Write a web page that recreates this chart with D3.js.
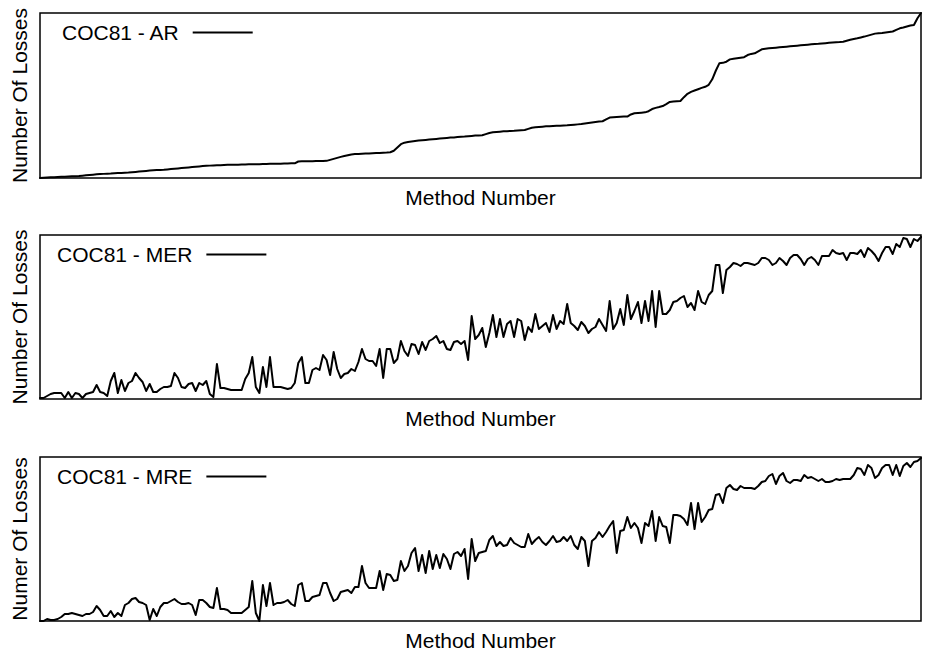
<!DOCTYPE html>
<html><head><meta charset="utf-8">
<script src="https://cdn.jsdelivr.net/npm/d3@7"></script>
<style>body{margin:0;background:#fff} text{font-family:"Liberation Sans",Arial,Helvetica,sans-serif;fill:#000}</style>
</head><body><svg id="c" width="927" height="656"></svg>
<script>
// Number of losses per method, method number = index + 1
const arLosses = [
0,0.2,0.3,0.4,0.5,0.6,0.7,0.8,0.9,1.0,
1.1,1.2,1.4,1.6,1.8,2.0,2.2,2.4,2.5,2.6,
2.7,2.9,3.0,3.1,3.2,3.3,3.5,3.7,3.9,4.1,
4.3,4.5,4.7,4.8,4.9,5.0,5.2,5.4,5.6,5.8,
6.0,6.2,6.4,6.6,6.8,7.0,7.2,7.4,7.5,7.6,
7.7,7.8,7.9,8.0,8.0,8.1,8.1,8.2,8.2,8.3,
8.3,8.4,8.4,8.5,8.5,8.6,8.6,8.7,8.7,8.8,
8.8,8.9,8.9,10.0,10.1,10.1,10.2,10.2,10.3,10.3,
10.3,10.4,11.0,11.6,12.2,12.8,13.3,13.8,14.3,14.5,
14.6,14.7,14.8,14.9,15.0,15.1,15.2,15.3,15.4,15.6,
16.5,18.5,20.5,21.4,21.8,22.1,22.4,22.7,22.9,23.1,
23.3,23.5,23.7,23.9,24.1,24.3,24.5,24.6,24.8,25.0,
25.1,25.3,25.5,25.7,25.8,25.9,26.6,27.3,27.7,27.9,
28.1,28.3,28.4,28.5,28.6,28.8,29.0,29.1,29.8,30.5,
30.7,30.9,31.1,31.3,31.4,31.5,31.6,31.7,31.8,31.9,
32.1,32.3,32.5,32.7,33.0,33.3,33.6,33.9,34.2,34.4,
35.5,36.6,36.8,37.0,37.1,37.2,37.2,38.5,39.2,39.4,
39.6,39.8,40.5,41.8,42.5,43.0,43.6,44.8,46.1,46.3,
46.5,46.7,49.0,51.0,52.2,53.0,53.8,54.6,55.3,56.5,
59.8,65.0,69.5,69.8,70.5,71.9,72.3,72.6,72.9,73.2,
74.5,75.2,75.6,76.8,78.0,78.3,78.6,78.8,79.0,79.2,
79.4,79.6,79.8,80.0,80.2,80.4,80.6,80.8,81.0,81.2,
81.3,81.5,81.7,81.9,82.1,82.3,82.4,82.6,83.2,83.8,
84.3,84.7,85.2,85.7,86.3,86.9,87.5,87.7,87.9,88.2,
88.5,88.8,89.8,90.7,91.2,91.8,92.4,92.7,96.8,100];

const merLosses = [
1,1,3,5,6,6,6,1,7,1,
6,5,1,5,6,7,14,7,6,3,
18,26,6,19,8,16,18,26,21,17,
8,15,7,7,10,12,12,13,26,21,
12,11,15,16,8,16,14,18,5,2,
35,11,11,10,9,9,9,9,20,26,
42,12,6,32,12,42,12,12,12,11,
10,11,16,36,42,16,16,29,31,29,
44,39,24,47,30,21,25,26,30,28,
37,50,40,38,38,33,50,21,50,50,
36,40,58,48,43,55,54,45,57,49,
58,60,63,56,58,50,49,57,58,55,
58,39,83,60,64,71,52,66,84,62,
80,62,75,78,62,80,78,59,72,67,
85,70,73,76,67,84,70,78,75,95,
76,73,69,77,73,66,70,72,80,74,
68,98,70,76,90,74,104,80,88,97,
76,98,78,108,72,108,85,85,89,97,
98,101,103,92,96,89,108,97,95,104,
108,134,134,106,129,132,136,135,133,136,
136,135,134,136,141,141,139,134,136,141,
138,134,141,144,144,140,134,140,142,139,
134,143,143,143,149,146,145,146,139,146,
146,145,149,142,151,148,144,138,146,152,
152,145,155,152,161,160,152,160,158,162];

const mreLosses = [
0,0,2,1,1,2,4,7,7,8,
7,6,5,7,7,9,15,11,5,5,
10,4,8,5,16,18,22,23,19,18,
16,1,12,5,14,18,18,20,22,19,
17,17,18,16,6,21,21,18,14,13,
33,12,12,11,8,8,8,8,11,14,
40,8,0,36,15,38,16,18,18,19,
21,17,15,36,38,20,20,24,25,26,
38,38,28,20,22,29,30,31,28,34,
34,55,38,33,33,33,50,31,47,46,
40,41,60,50,55,68,73,50,66,48,
70,52,66,53,67,62,52,67,69,65,
72,42,82,60,68,69,70,81,85,75,
79,75,76,83,78,76,74,74,87,77,
81,84,79,76,80,85,79,80,84,80,
85,76,72,84,80,55,80,83,89,84,
89,95,100,68,90,91,104,93,98,93,
78,98,95,110,80,104,95,94,78,106,
106,105,102,96,118,92,118,99,104,111,
112,126,127,118,133,136,132,131,135,133,
133,133,132,135,139,140,145,147,137,145,
148,140,138,141,141,140,146,143,144,142,
140,142,139,139,140,142,141,142,142,142,
146,153,152,146,156,153,143,146,153,156,
156,146,156,145,155,158,154,159,160,163];

const seriesNames = ["COC81 - AR", "COC81 - MER", "COC81 - MRE"];
const yAxisTitles = ["Number Of Losses", "Number Of Losses", "Numer Of Losses"];
const xAxisTitle = "Method Number";
const yMaxima = [100, 164, 164];

const seriesList = [arLosses, merLosses, mreLosses];
const layout = [
  {top: 13, bottom: 178, legendX: 62},
  {top: 235, bottom: 399, legendX: 57},
  {top: 457, bottom: 621, legendX: 57}
];
const left = 40, right = 921;
const svg = d3.select("#c");
svg.append("rect").attr("width", 927).attr("height", 656).attr("fill", "#fff");

seriesList.forEach((vals, k) => {
  const L = layout[k];
  const x = d3.scaleLinear().domain([1, vals.length]).range([left, right]);
  const y = d3.scaleLinear().domain([0, yMaxima[k]]).range([L.bottom, L.top]);
  const g = svg.append("g");
  const line = d3.line().x((d, i) => x(i + 1)).y(d => y(d));
  g.append("path").datum(vals).attr("d", line)
    .attr("fill", "none").attr("stroke", "#000").attr("stroke-width", 2)
    .attr("stroke-linejoin", "round").attr("stroke-linecap", "round");
  g.append("rect").attr("x", left).attr("y", L.top)
    .attr("width", right - left).attr("height", L.bottom - L.top)
    .attr("fill", "none").attr("stroke", "#000").attr("stroke-width", 1.5);
  const t = g.append("text").attr("x", L.legendX).attr("y", L.top + 27)
    .attr("font-size", 21).text(seriesNames[k]);
  const tl = t.node().getComputedTextLength();
  g.append("line").attr("x1", L.legendX + tl + 14).attr("x2", L.legendX + tl + 74)
    .attr("y1", L.top + 19.5).attr("y2", L.top + 19.5)
    .attr("stroke", "#000").attr("stroke-width", 2);
  g.append("text").attr("x", (left + right) / 2).attr("y", L.bottom + 27)
    .attr("text-anchor", "middle").attr("font-size", 21).text(xAxisTitle);
  g.append("text").attr("transform", `translate(27,${(L.top + L.bottom) / 2}) rotate(-90)`)
    .attr("text-anchor", "middle").attr("font-size", 21).text(yAxisTitles[k]);
});
</script></body></html>
